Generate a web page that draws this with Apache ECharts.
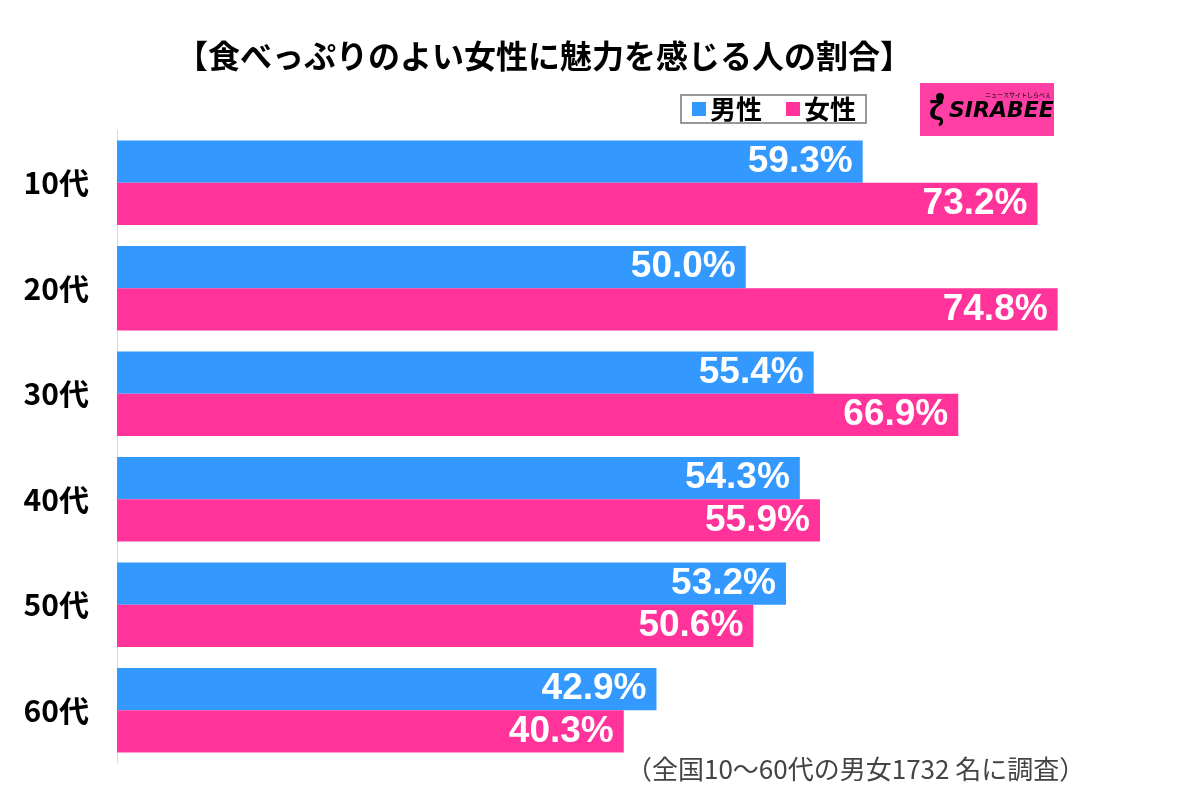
<!DOCTYPE html>
<html><head><meta charset="utf-8">
<script src="https://cdn.jsdelivr.net/npm/echarts@6/dist/echarts.min.js"></script>
<style>html,body{margin:0;padding:0;background:#fff}#c{width:1200px;height:800px}</style>
</head><body><div id="c"></div>
<script>
const categories = ['10代','20代','30代','40代','50代','60代'];
const male = [59.3, 50.0, 55.4, 54.3, 53.2, 42.9];
const female = [73.2, 74.8, 66.9, 55.9, 50.6, 40.3];
const seriesNames = ['男性','女性'];
const titleText = '【食べっぷりのよい女性に魅力を感じる人の割合】';
const noteText = '（全国10〜60代の男女1732 名に調査）';

const JP = '"Noto Sans CJK JP", "Noto Sans", sans-serif';
const chart = echarts.init(document.getElementById('c'));
const labelCfg = {
  show: true, position: 'insideRight', color: '#fff', fontSize: 37, fontWeight: 'bold',
  fontFamily: '"Liberation Sans", Arial, sans-serif', distance: 10,
  formatter: p => p.value.toFixed(1) + '%'
};
chart.setOption({
  animation: false,
  title: {
    text: titleText, left: 539, textAlign: 'center', top: 35,
    textStyle: { fontFamily: JP, fontSize: 32, fontWeight: 'bold', color: '#000' }
  },
  legend: {
    data: seriesNames, left: 681, top: 95, orient: 'horizontal',
    itemWidth: 14, itemHeight: 14, itemGap: 24, icon: 'rect',
    borderColor: '#777', borderWidth: 1.5, padding: [1, 10, 1, 11],
    textStyle: { fontFamily: JP, fontSize: 26, fontWeight: 'bold', color: '#000', padding: [0,0,0,-1] }
  },
  grid: { left: 117, top: 130, width: 1006, height: 633, containLabel: false },
  xAxis: { type: 'value', min: 0, max: 80, show: false },
  yAxis: {
    type: 'category', data: categories, inverse: true,
    axisLine: { show: true, lineStyle: { color: '#d9d9d9', width: 1 } },
    axisTick: { show: false },
    axisLabel: { fontFamily: JP, fontSize: 30, color: '#000', margin: 28, fontWeight: 'bold' }
  },
  series: [
    { name: seriesNames[0], type: 'bar', data: male, barCategoryGap: '20%', barGap: '0%',
      itemStyle: { color: '#3399FF' }, label: labelCfg },
    { name: seriesNames[1], type: 'bar', data: female, barCategoryGap: '20%', barGap: '0%',
      itemStyle: { color: '#FF3399' }, label: labelCfg }
  ],
  graphic: [
    { type: 'rect', shape: { x: 920, y: 83, width: 134, height: 53 }, style: { fill: '#FF3FA4' } },
    { type: 'text', left: 949, top: 100, style: { text: 'SIRABEE', font: 'italic bold 22px "DejaVu Sans", sans-serif', fill: '#000' } },
    { type: 'circle', shape: { cx: 940, cy: 97, r: 4 }, style: { fill: '#000' } },
    { type: 'text', left: 929, top: 100, style: { text: 'ζ', font: 'bold 26px "DejaVu Sans", sans-serif', fill: '#000' } },
    { type: 'text', left: 985, top: 92, style: { text: 'ニュースサイトしらべぇ', font: '6px "Noto Sans CJK JP", sans-serif', fill: '#000' } },
    { type: 'text', left: 626, top: 756, style: { text: noteText, font: '26px "Noto Sans CJK JP", sans-serif', fill: '#444' } }
  ]
});
</script></body></html>
